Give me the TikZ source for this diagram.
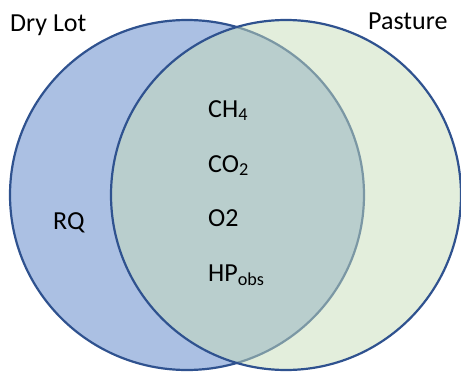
\documentclass[tikz,border=0pt]{standalone}
\usepackage{fontspec}
\setmainfont{Carlito}
\usepackage{tikz}
\definecolor{lotblue}{RGB}{171,192,227}
\definecolor{pasturegreen}{RGB}{199,221,185}
\definecolor{edgeblue}{RGB}{47,82,143}

\begin{document}
\begin{tikzpicture}[x=1pt,y=-1pt,
	vtext/.style={anchor=base west, inner sep=0pt, font=\fontsize{26}{31}\selectfont},
	setline/.style={draw=edgeblue, line width=2.2pt}]
	\useasboundingbox (0,0) rectangle (461,372);

	% the two sets
	\draw [setline, fill=lotblue] (187,195) ellipse [x radius=177pt, y radius=175pt];
	\draw [setline, fill=pasturegreen, fill opacity=0.5] (286,195) ellipse [x radius=175pt, y radius=175pt];

	\node (drylot) [vtext] at (10,31) {Dry Lot};
	\node (pasture) [vtext] at (368,29) {Pasture};
	\node (rq) [vtext] at (53,229) {RQ};

	\node (ch4) [vtext] at (208,117) {CH\textsubscript{4}};
	\node (co2) [vtext] at (208,172) {CO\textsubscript{2}};
	\node (o2) [vtext] at (208,226) {O2};
	\node (hp) [vtext] at (208,281) {HP\textsubscript{obs}};

\end{tikzpicture}
\end{document}
